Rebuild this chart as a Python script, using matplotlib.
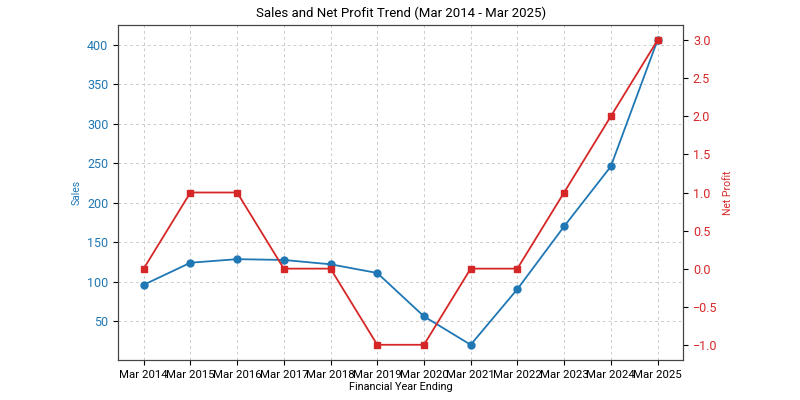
import matplotlib.pyplot as plt

plt.rcParams['font.family'] = ['Roboto', 'DejaVu Sans']

years = ['Mar 2014', 'Mar 2015', 'Mar 2016', 'Mar 2017', 'Mar 2018', 'Mar 2019',
         'Mar 2020', 'Mar 2021', 'Mar 2022', 'Mar 2023', 'Mar 2024', 'Mar 2025']
sales = [96, 124, 128.5, 127.5, 122, 111, 56, 20, 90.5, 170, 246, 406]
net_profit = [0, 1, 1, 0, 0, -1, -1, 0, 0, 1, 2, 3]

blue = '#1f77b4'
red = '#d62728'

fig, ax1 = plt.subplots(figsize=(8, 4), dpi=100)
fig.subplots_adjust(left=0.1475, right=0.854, top=0.9375, bottom=0.1)

ax1.plot(years, sales, '-o', color=blue, markersize=5, linewidth=1.3, label='Sales')
ax1.set_ylabel('Sales', color=blue, fontsize=7.5)
ax1.tick_params(axis='y', labelcolor=blue, labelsize=9)
ax1.tick_params(axis='x', labelsize=8.2)
ax1.set_xlabel('Financial Year Ending', fontsize=7.8, labelpad=2)
ax1.grid(True, linestyle=(0, (3, 3)), color='#cccccc', linewidth=0.7)

ax2 = ax1.twinx()
ax2.plot(years, net_profit, '-s', color=red, markersize=5, linewidth=1.3, label='Net Profit')
ax2.set_ylabel('Net Profit', color=red, fontsize=7.5)
ax2.tick_params(axis='y', labelcolor=red, labelsize=9)

for ax in (ax1, ax2):
    for s in ax.spines.values():
        s.set_color('#444444')

ax1.set_title('Sales and Net Profit Trend (Mar 2014 - Mar 2025)', fontsize=9.5)

fig.savefig('out.png')
